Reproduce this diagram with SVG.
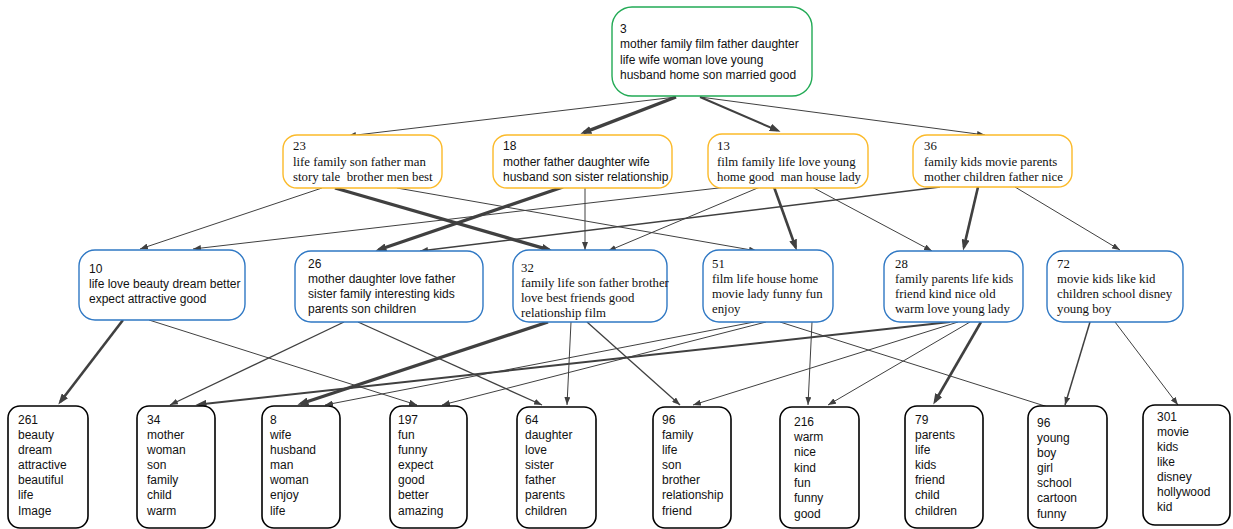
<svg xmlns="http://www.w3.org/2000/svg" width="1233" height="529" viewBox="0 0 1233 529">
<style>
.bg{fill:#fff}
.e{stroke:#404040;fill:none}
.w1{stroke-width:1}
.w13{stroke-width:1.3}
.w15{stroke-width:1.5}
.w2{stroke-width:2}
.w25{stroke-width:2.6}
.w3{stroke-width:3.3}
.g{fill:#fff;stroke:#22AA55;stroke-width:1.4}
.o{fill:#fff;stroke:#FBBA2A;stroke-width:1.4}
.b{fill:#fff;stroke:#2F78C4;stroke-width:1.4}
.k{fill:#fff;stroke:#000;stroke-width:1.6}
.s{font-family:"Liberation Sans",Arial,sans-serif;font-size:12px;fill:#111}
.r{font-family:"Liberation Serif","Times New Roman",serif;font-size:12.8px;fill:#111}
.pre{white-space:pre}
</style>
<defs>
<marker id="a" markerUnits="userSpaceOnUse" markerWidth="8" markerHeight="6" refX="8" refY="3" orient="auto"><path d="M0,0 L8,3 L0,6 z" fill="#404040"/></marker>
<marker id="m" markerUnits="userSpaceOnUse" markerWidth="11" markerHeight="8" refX="7.5" refY="4" orient="auto"><path d="M0,0 L11,4 L0,8 z" fill="#404040"/></marker>
</defs>
<rect class="bg" x="0" y="0" width="1233" height="529"/>
<g id="connectors">
<line class="e w1" x1="676" y1="97" x2="348" y2="136" marker-end="url(#a)"/>
<line class="e w3" x1="676" y1="97" x2="583.7" y2="132.6" marker-end="url(#m)"/>
<line class="e w2" x1="700" y1="97" x2="777.3" y2="130.4" marker-end="url(#m)"/>
<line class="e w1" x1="700" y1="97" x2="985" y2="135" marker-end="url(#a)"/>
<line class="e w1" x1="322" y1="188" x2="140" y2="249" marker-end="url(#a)"/>
<line class="e w3" x1="335" y1="188" x2="549.2" y2="249.9" marker-end="url(#m)"/>
<line class="e w1" x1="397" y1="188" x2="757" y2="251" marker-end="url(#a)"/>
<line class="e w3" x1="563" y1="187" x2="378.8" y2="249.7" marker-end="url(#m)"/>
<line class="e w1" x1="585" y1="188" x2="585" y2="250" marker-end="url(#a)"/>
<line class="e w1" x1="727" y1="187" x2="193" y2="249" marker-end="url(#a)"/>
<line class="e w1" x1="760" y1="187" x2="608" y2="251" marker-end="url(#a)"/>
<line class="e w25" x1="774" y1="187" x2="795.6" y2="247.2" marker-end="url(#m)"/>
<line class="e w1" x1="812" y1="187" x2="932" y2="251" marker-end="url(#a)"/>
<line class="e w15" x1="940" y1="187" x2="420" y2="251" marker-end="url(#a)"/>
<line class="e w25" x1="978" y1="187" x2="963.9" y2="247.1" marker-end="url(#m)"/>
<line class="e w1" x1="1015" y1="187" x2="1120" y2="250" marker-end="url(#a)"/>
<line class="e w25" x1="123" y1="320" x2="60.4" y2="401.8" marker-end="url(#m)"/>
<line class="e w1" x1="149" y1="320" x2="417" y2="405" marker-end="url(#a)"/>
<line class="e w13" x1="344" y1="322" x2="170" y2="405" marker-end="url(#a)"/>
<line class="e w13" x1="358" y1="322" x2="542" y2="405" marker-end="url(#a)"/>
<line class="e w3" x1="548" y1="322" x2="300.8" y2="403.7" marker-end="url(#m)"/>
<line class="e w1" x1="571" y1="322" x2="567" y2="405" marker-end="url(#a)"/>
<line class="e w13" x1="587" y1="322" x2="680" y2="405" marker-end="url(#a)"/>
<line class="e w1" x1="754" y1="322" x2="325" y2="405" marker-end="url(#a)"/>
<line class="e w1" x1="766" y1="322" x2="442" y2="405" marker-end="url(#a)"/>
<line class="e w1" x1="780" y1="322" x2="1048" y2="407"/>
<line class="e w1" x1="812" y1="322" x2="808" y2="405" marker-end="url(#a)"/>
<line class="e w2" x1="950" y1="322" x2="199" y2="404.6" marker-end="url(#m)"/>
<line class="e w1" x1="958" y1="322" x2="693" y2="405" marker-end="url(#a)"/>
<line class="e w1" x1="970" y1="322" x2="828" y2="405" marker-end="url(#a)"/>
<line class="e w25" x1="981" y1="322" x2="935" y2="401.5" marker-end="url(#m)"/>
<line class="e w15" x1="1090" y1="322" x2="1065" y2="405" marker-end="url(#a)"/>
<line class="e w1" x1="1115" y1="322" x2="1178" y2="405" marker-end="url(#a)"/>
</g>
<g id="n3"><rect class="g" x="612" y="7" width="200" height="89" rx="20"/>
<text class="s"><tspan x="620" y="33">3</tspan><tspan x="620" y="48">mother family film father daughter</tspan><tspan x="620" y="64">life wife woman love young</tspan><tspan x="620" y="79">husband home son married good</tspan></text></g>
<g id="n23"><rect class="o" x="283" y="135" width="159" height="53" rx="14"/>
<text class="r pre"><tspan x="293" y="150">23</tspan><tspan x="293" y="166">life family son father man</tspan><tspan x="293" y="181">story tale  brother men best</tspan></text></g>
<g id="n18"><rect class="o" x="493" y="135" width="179" height="53" rx="14"/>
<text class="s"><tspan x="503" y="150">18</tspan><tspan x="503" y="166">mother father daughter wife</tspan><tspan x="503" y="181">husband son sister relationship</tspan></text></g>
<g id="n13"><rect class="o" x="708" y="134" width="160" height="54" rx="14"/>
<text class="r pre"><tspan x="717" y="150">13</tspan><tspan x="717" y="166">film family life love young</tspan><tspan x="717" y="181">home good  man house lady</tspan></text></g>
<g id="n36"><rect class="o" x="913" y="135" width="159" height="52" rx="14"/>
<text class="r"><tspan x="924" y="150">36</tspan><tspan x="924" y="166">family kids movie parents</tspan><tspan x="924" y="181">mother children father nice</tspan></text></g>
<g id="n10"><rect class="b" x="79" y="250" width="166" height="70" rx="16"/>
<text class="s"><tspan x="89" y="273">10</tspan><tspan x="89" y="288">life love beauty dream better</tspan><tspan x="89" y="303">expect attractive good</tspan></text></g>
<g id="n26"><rect class="b" x="295" y="251" width="188" height="71" rx="16"/>
<text class="s"><tspan x="308" y="268">26</tspan><tspan x="308" y="283">mother daughter love father</tspan><tspan x="308" y="298">sister family interesting kids</tspan><tspan x="308" y="313">parents son children</tspan></text></g>
<g id="n32"><rect class="b" x="513" y="250" width="154" height="72" rx="16"/>
<text class="r"><tspan x="521" y="272">32</tspan><tspan x="521" y="287">family life son father brother</tspan><tspan x="521" y="302">love best friends good</tspan><tspan x="521" y="317">relationship film</tspan></text></g>
<g id="n51"><rect class="b" x="703" y="250" width="130" height="72" rx="16"/>
<text class="r"><tspan x="712" y="268">51</tspan><tspan x="712" y="283">film life house home</tspan><tspan x="712" y="298">movie lady funny fun</tspan><tspan x="712" y="313">enjoy</tspan></text></g>
<g id="n28"><rect class="b" x="884" y="251" width="139" height="71" rx="16"/>
<text class="r"><tspan x="895" y="268">28</tspan><tspan x="895" y="283">family parents life kids</tspan><tspan x="895" y="298">friend kind nice old</tspan><tspan x="895" y="313">warm love young lady</tspan></text></g>
<g id="n72"><rect class="b" x="1047" y="251" width="136" height="71" rx="16"/>
<text class="r"><tspan x="1057" y="268">72</tspan><tspan x="1057" y="283">movie kids like kid</tspan><tspan x="1057" y="298">children school disney</tspan><tspan x="1057" y="313">young boy</tspan></text></g>
<g id="n261"><rect class="k" x="8" y="406" width="80" height="122" rx="12"/>
<text class="s"><tspan x="18" y="424">261</tspan><tspan x="18" y="439">beauty</tspan><tspan x="18" y="454">dream</tspan><tspan x="18" y="469">attractive</tspan><tspan x="18" y="484">beautiful</tspan><tspan x="18" y="499">life</tspan><tspan x="18" y="515">Image</tspan></text></g>
<g id="n34"><rect class="k" x="137" y="406" width="78" height="122" rx="12"/>
<text class="s"><tspan x="147" y="424">34</tspan><tspan x="147" y="439">mother</tspan><tspan x="147" y="454">woman</tspan><tspan x="147" y="469">son</tspan><tspan x="147" y="484">family</tspan><tspan x="147" y="499">child</tspan><tspan x="147" y="515">warm</tspan></text></g>
<g id="n8"><rect class="k" x="262" y="406" width="78" height="122" rx="12"/>
<text class="s"><tspan x="270" y="424">8</tspan><tspan x="270" y="439">wife</tspan><tspan x="270" y="454">husband</tspan><tspan x="270" y="469">man</tspan><tspan x="270" y="484">woman</tspan><tspan x="270" y="499">enjoy</tspan><tspan x="270" y="515">life</tspan></text></g>
<g id="n197"><rect class="k" x="390" y="406" width="77" height="122" rx="12"/>
<text class="s"><tspan x="398" y="424">197</tspan><tspan x="398" y="439">fun</tspan><tspan x="398" y="454">funny</tspan><tspan x="398" y="469">expect</tspan><tspan x="398" y="484">good</tspan><tspan x="398" y="499">better</tspan><tspan x="398" y="515">amazing</tspan></text></g>
<g id="n64"><rect class="k" x="517" y="407" width="79" height="121" rx="12"/>
<text class="s"><tspan x="525" y="424">64</tspan><tspan x="525" y="439">daughter</tspan><tspan x="525" y="454">love</tspan><tspan x="525" y="469">sister</tspan><tspan x="525" y="484">father</tspan><tspan x="525" y="499">parents</tspan><tspan x="525" y="515">children</tspan></text></g>
<g id="n96a"><rect class="k" x="653" y="407" width="78" height="121" rx="12"/>
<text class="s"><tspan x="662" y="424">96</tspan><tspan x="662" y="439">family</tspan><tspan x="662" y="454">life</tspan><tspan x="662" y="469">son</tspan><tspan x="662" y="484">brother</tspan><tspan x="662" y="499">relationship</tspan><tspan x="662" y="515">friend</tspan></text></g>
<g id="n216"><rect class="k" x="780" y="407" width="79" height="121" rx="12"/>
<text class="s"><tspan x="794" y="426">216</tspan><tspan x="794" y="441">warm</tspan><tspan x="794" y="456">nice</tspan><tspan x="794" y="472">kind</tspan><tspan x="794" y="487">fun</tspan><tspan x="794" y="502">funny</tspan><tspan x="794" y="518">good</tspan></text></g>
<g id="n79"><rect class="k" x="905" y="406" width="78" height="122" rx="12"/>
<text class="s"><tspan x="915" y="424">79</tspan><tspan x="915" y="439">parents</tspan><tspan x="915" y="454">life</tspan><tspan x="915" y="469">kids</tspan><tspan x="915" y="484">friend</tspan><tspan x="915" y="499">child</tspan><tspan x="915" y="515">children</tspan></text></g>
<g id="n96b"><rect class="k" x="1028" y="406" width="79" height="122" rx="12"/>
<text class="s"><tspan x="1037" y="427">96</tspan><tspan x="1037" y="442">young</tspan><tspan x="1037" y="457">boy</tspan><tspan x="1037" y="472">girl</tspan><tspan x="1037" y="487">school</tspan><tspan x="1037" y="502">cartoon</tspan><tspan x="1037" y="518">funny</tspan></text></g>
<g id="n301"><rect class="k" x="1143" y="405" width="87" height="120" rx="12"/>
<text class="s"><tspan x="1157" y="421">301</tspan><tspan x="1157" y="436">movie</tspan><tspan x="1157" y="451">kids</tspan><tspan x="1157" y="466">like</tspan><tspan x="1157" y="481">disney</tspan><tspan x="1157" y="496">hollywood</tspan><tspan x="1157" y="511">kid</tspan></text></g>
</svg>
